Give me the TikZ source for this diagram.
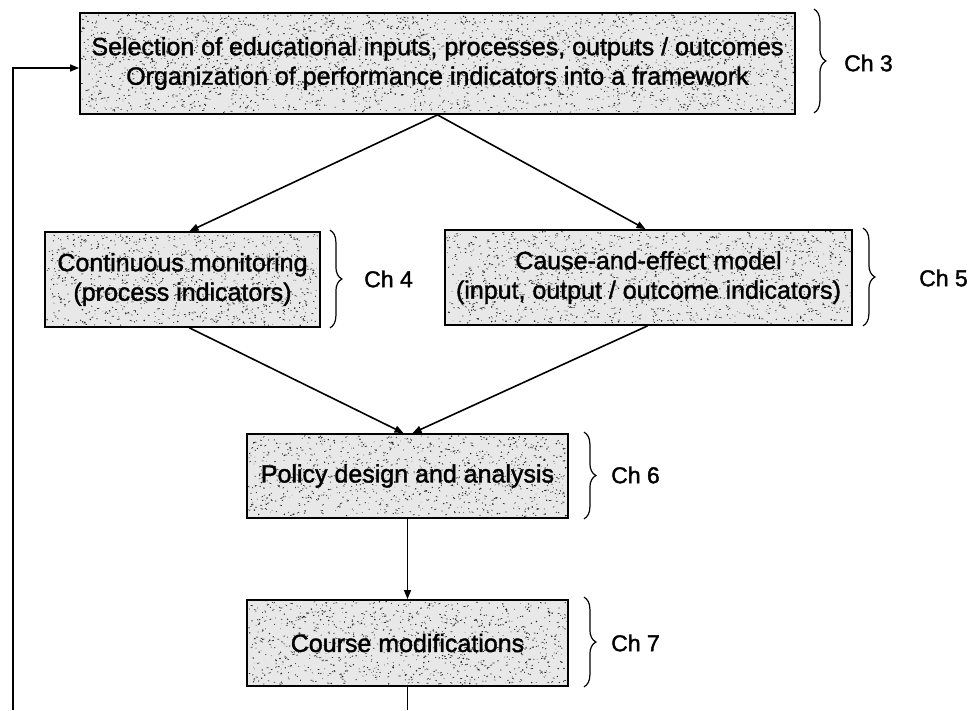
\documentclass[tikz,border=0pt]{standalone}
\usepackage{fontspec}
\setmainfont{Liberation Sans}[FakeBold=1.5]
\usetikzlibrary{arrows.meta,calc,decorations.pathreplacing}

\tikzset{
  flowbox/.style={draw=black, line width=1.8pt, align=center, inner sep=0pt,
    font=\fontsize{25}{29.5}\selectfont},
  link/.style={line width=1.6pt, -{Triangle[length=9pt,width=7pt]}},
  plainlink/.style={line width=1.3pt},
  chbrace/.style={decorate, decoration={brace, amplitude=12pt}, line width=1.2pt},
  chlabel/.style={anchor=west, inner sep=0pt, font=\fontsize{23}{28}\selectfont},
  grainbase/.style={fill=black!9},
  graindot/.style={fill=black!85},
  grainstroke/.style={draw=black!80, line width=0.7pt, line cap=round},
}

% A stippled process box: name, centre x, centre y, width, height, speckles, text
\newcommand{\flowstep}[7]{%
  \fill[grainbase] ({#2-#4/2},{#3-#5/2}) rectangle ({#2+#4/2},{#3+#5/2});
  \foreach \k in {1,...,#6}{%
    \pgfmathsetmacro{\gx}{#2+(rnd-0.5)*(#4-3)}%
    \pgfmathsetmacro{\gy}{#3+(rnd-0.5)*(#5-3)}%
    \pgfmathsetmacro{\gr}{0.3+0.6*rnd}%
    \fill[graindot] (\gx,\gy) circle[radius=\gr pt];
    \pgfmathsetmacro{\hx}{#2+(rnd-0.5)*(#4-4)}%
    \pgfmathsetmacro{\hy}{#3+(rnd-0.5)*(#5-4)}%
    \pgfmathsetmacro{\dx}{4*rnd-2}%
    \pgfmathsetmacro{\dy}{2*rnd-1}%
    \draw[grainstroke] (\hx,\hy) -- ++(\dx,\dy);
  }
  \node[flowbox, minimum width=#4pt, minimum height=#5pt] (#1) at (#2,#3) {#7};
}

\begin{document}
\begin{tikzpicture}[x=1pt, y=-1pt]
  \useasboundingbox (0,0) rectangle (974,710);
  \pgfmathsetseed{2718}

  % process boxes
  \flowstep{select}{437.5}{63.5}{715}{101}{1300}
    {Selection of educational inputs, processes, outputs / outcomes\\
     Organization of performance indicators into a framework}
  \flowstep{monitor}{182.5}{279.5}{275}{95}{470}
    {Continuous monitoring\\(process indicators)}
  \flowstep{cause}{648.5}{277.5}{407}{95}{700}
    {Cause-and-effect model\\(input, output / outcome indicators)}
  \flowstep{policy}{407.5}{476}{321}{84}{490}
    {Policy design and analysis}
  \flowstep{course}{407.5}{643}{321}{86}{500}
    {Course modifications}

  % chapter braces and labels
  \draw[chbrace] ($(select.north east)+(18,-3)$) -- ($(select.south east)+(18,-2)$);
  \node[chlabel] (ch3) at (844,63) {Ch 3};
  \draw[chbrace] ($(monitor.north east)+(9,-1)$) -- ($(monitor.south east)+(9,0)$);
  \node[chlabel] (ch4) at (364,279) {Ch 4};
  \draw[chbrace] ($(cause.north east)+(10,-1)$) -- ($(cause.south east)+(10,0)$);
  \node[chlabel] (ch5) at (919,278) {Ch 5};
  \draw[chbrace] ($(policy.north east)+(15,-1)$) -- ($(policy.south east)+(15,0)$);
  \node[chlabel] (ch6) at (611,475) {Ch 6};
  \draw[chbrace] ($(course.north east)+(15,-2)$) -- ($(course.south east)+(15,0)$);
  \node[chlabel] (ch7) at (611,643) {Ch 7};

  % flow connectors
  \draw[link] (select.south) -- ($(monitor.north)+(7,0)$);
  \draw[link] (select.south) -- ($(cause.north)+(-3,0)$);
  \draw[link] ($(monitor.south)+(7,0)$) -- ($(policy.north)+(-4,0)$);
  \draw[link] ($(cause.south)+(-1,0)$) -- ($(policy.north)+(5,0)$);
  \draw[link, line width=1.2pt] (policy.south) -- (course.north);

  % feedback loop back to the top box
  \coordinate (loopend) at (13,710);
  \coordinate (courseend) at (407.5,710);
  \draw[plainlink] (course.south) -- (courseend);
  \draw[link] (loopend) |- ($(select.west)+(0,4.5)$);
\end{tikzpicture}
\end{document}
